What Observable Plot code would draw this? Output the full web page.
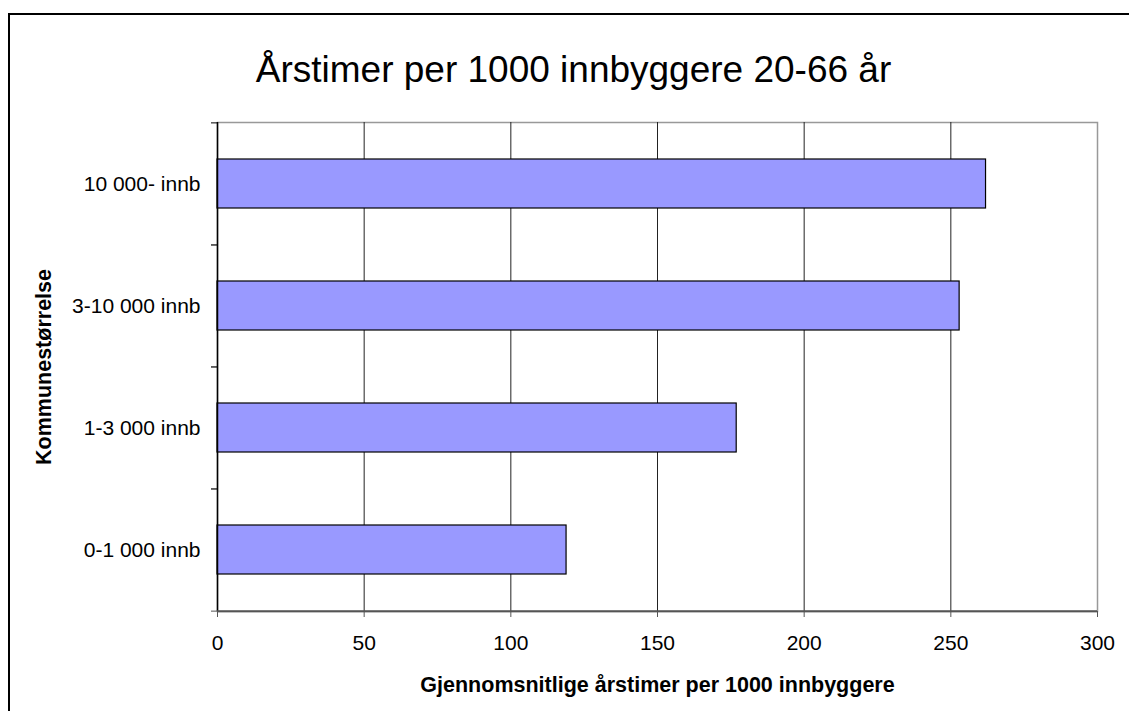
<!DOCTYPE html>
<html>
<head>
<meta charset="utf-8">
<script src="https://cdn.jsdelivr.net/npm/d3@7"></script>
<script src="https://cdn.jsdelivr.net/npm/@observablehq/plot@0.6"></script>
<style>
  html, body { margin: 0; padding: 0; background: #fff; overflow: hidden; }
  #wrap { position: relative; width: 1129px; height: 711px; overflow: hidden; font-family: "Liberation Sans", Arial, sans-serif; }
  #frame { position: absolute; left: 8px; top: 13px; width: 1200px; height: 800px; border-left: 2px solid #000; border-top: 2px solid #000; }
  #title { position: absolute; left: 0; width: 1147px; top: 48px; text-align: center; font-size: 37px; line-height: 44px; color: #000; }
  #chart { position: absolute; left: 0; top: 100px; }
</style>
</head>
<body>
<div id="wrap">
  <div id="frame"></div>
  <div id="title">Årstimer per 1000 innbyggere 20-66 år</div>
  <div id="chart"></div>
</div>
<script>
const categories = ["10 000- innb", "3-10 000 innb", "1-3 000 innb", "0-1 000 innb"];
const values = [262, 253, 177, 119];
const xTicks = [0, 50, 100, 150, 200, 250, 300];
const xLabel = "Gjennomsnitlige årstimer per 1000 innbyggere";
const yLabel = "Kommunestørrelse";

const data = categories.map((c, i) => ({category: c, value: values[i]}));

const W = 1129, H = 606;
const mT = 22, mB = 95, mL = 217, mR = 32;
const step = (H - mT - mB) / categories.length;
const font = "Liberation Sans, Arial, sans-serif";

const plot = Plot.plot({
  width: W,
  height: H,
  marginTop: mT,
  marginBottom: mB,
  marginLeft: mL,
  marginRight: mR,
  style: {fontFamily: font, fontSize: "21px", color: "#000", background: "transparent"},
  x: {domain: [0, 300]},
  y: {domain: categories, paddingInner: 0.6, paddingOuter: 0.3},
  marks: [
    Plot.frame({stroke: "#999", strokeWidth: 1.5}),
    Plot.gridX(xTicks.slice(1, -1), {stroke: "#222", strokeOpacity: 1, strokeWidth: 1}),
    Plot.barX(data, {y: "category", x: "value", fill: "#9999ff", stroke: "#000", strokeWidth: 1.2}),
    Plot.axisY({tickSize: 6, tickFormat: null, dy: -step / 2, stroke: "#000", label: null}),
    Plot.axisY({tickSize: 6, tickFormat: null, dy: step / 2, stroke: "#555", label: null}),
    Plot.axisY({tickSize: 0, tickPadding: 17, fontSize: 21, label: yLabel, labelAnchor: "center", labelOffset: 182, labelArrow: "none"}),
    Plot.ruleX([0], {stroke: "#000", strokeWidth: 1.5}),
    Plot.axisX({ticks: xTicks, tickSize: 6, tickPadding: 18, stroke: "#555", fontSize: 21,
      label: xLabel, labelAnchor: "center", labelOffset: 80, labelArrow: "none"}),
    Plot.ruleY([categories[categories.length - 1]], {stroke: "#555", strokeWidth: 2, dy: step / 2, x1: 0, x2: 300})
  ]
});
document.getElementById("chart").appendChild(plot);

plot.querySelectorAll("[aria-label='y-axis label'] text, [aria-label='x-axis label'] text").forEach(t => {
  t.setAttribute("font-weight", "bold");
  t.setAttribute("font-size", "21.5");
});
</script>
</body>
</html>
